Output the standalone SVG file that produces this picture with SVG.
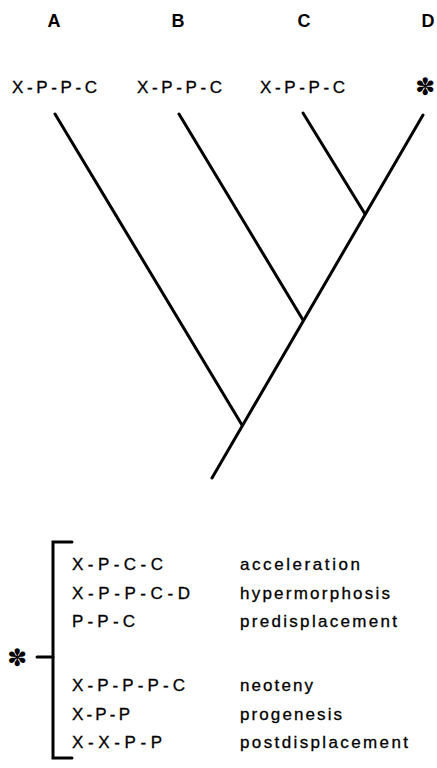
<svg xmlns="http://www.w3.org/2000/svg" width="437" height="768" viewBox="0 0 437 768">
<style>
.bg{fill:#fff}
.ln{stroke:#000;stroke-width:3;fill:none;stroke-linecap:round}
.hd{font-family:"Liberation Sans",Arial,sans-serif;font-weight:bold;font-size:18px;fill:#000;text-anchor:middle}
.lb{font-family:"Liberation Sans",Arial,sans-serif;font-size:17px;fill:#000;stroke:#000;stroke-width:0.3}
.st{font-family:"DejaVu Sans",sans-serif;font-size:24px;font-weight:bold;fill:#000;text-anchor:middle}
</style>
<rect class="bg" x="0" y="0" width="437" height="768"/>
<g id="taxon-A"><text class="hd" x="54" y="27">A</text><text class="lb" x="12" y="93" textLength="85" lengthAdjust="spacing">X-P-P-C</text></g>
<g id="taxon-B"><text class="hd" x="178" y="27">B</text><text class="lb" x="137" y="93" textLength="85" lengthAdjust="spacing">X-P-P-C</text></g>
<g id="taxon-C"><text class="hd" x="304" y="27">C</text><text class="lb" x="260" y="93" textLength="85" lengthAdjust="spacing">X-P-P-C</text></g>
<g id="taxon-D"><text class="hd" x="428" y="27">D</text><text class="st" x="425" y="95">✽</text></g>
<g id="connectors">
<line class="ln" x1="55" y1="114" x2="242" y2="425"/>
<line class="ln" x1="179" y1="114" x2="303" y2="320"/>
<line class="ln" x1="303" y1="113" x2="365" y2="214"/>
<line class="ln" x1="423" y1="115" x2="212" y2="478"/>
</g>
<g id="legend">
<path class="ln" d="M72,542 H53 V758 H72" stroke-linecap="butt"/>
<line class="ln" x1="37" y1="657" x2="53" y2="657" stroke-linecap="butt"/>
<text class="st" x="17" y="666">✽</text>
<text class="lb" x="72" y="570" textLength="91" lengthAdjust="spacing">X-P-C-C</text>
<text class="lb" x="72" y="599" textLength="118" lengthAdjust="spacing">X-P-P-C-D</text>
<text class="lb" x="72" y="627" textLength="63" lengthAdjust="spacing">P-P-C</text>
<text class="lb" x="72" y="691" textLength="113" lengthAdjust="spacing">X-P-P-P-C</text>
<text class="lb" x="72" y="720" textLength="58" lengthAdjust="spacing">X-P-P</text>
<text class="lb" x="72" y="748" textLength="90" lengthAdjust="spacing">X-X-P-P</text>
<text class="lb" x="240" y="570" textLength="120" lengthAdjust="spacing">acceleration</text>
<text class="lb" x="240" y="599" textLength="150" lengthAdjust="spacing">hypermorphosis</text>
<text class="lb" x="240" y="627" textLength="157" lengthAdjust="spacing">predisplacement</text>
<text class="lb" x="240" y="691" textLength="73" lengthAdjust="spacing">neoteny</text>
<text class="lb" x="240" y="720" textLength="102" lengthAdjust="spacing">progenesis</text>
<text class="lb" x="240" y="748" textLength="168" lengthAdjust="spacing">postdisplacement</text>
</g>
</svg>
